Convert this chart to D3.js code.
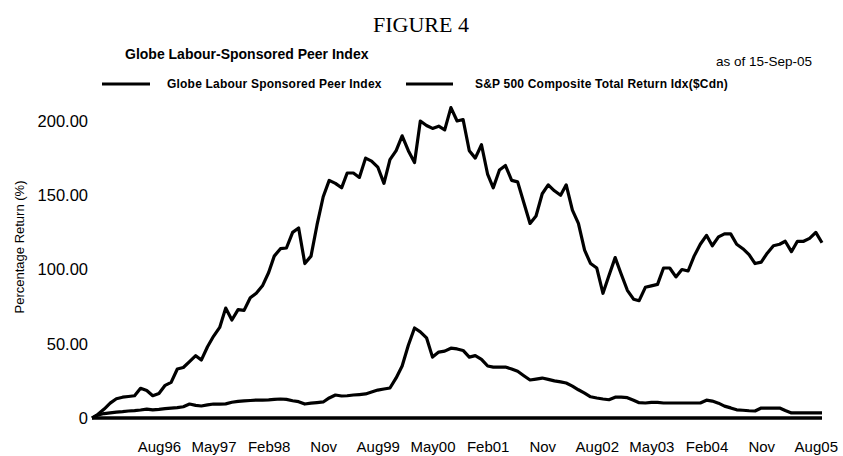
<!DOCTYPE html>
<html>
<head>
<meta charset="utf-8">
<script src="https://cdn.jsdelivr.net/npm/d3@7"></script>
<style>
  html, body { margin: 0; padding: 0; background: #fff; }
  svg { display: block; }
  text { fill: #000; }
</style>
</head>
<body>
<svg id="chart" width="843" height="456"></svg>
<script>
// monthly points, Sep 1995 .. Sep 2005
const START = new Date(1995, 8, 15);
const seriesNames = ['Globe Labour Sponsored Peer Index', 'S&P 500 Composite Total Return Idx($Cdn)'];
const globeLabour = [
    0, 2, 3, 3.5, 4, 4.3, 4.7, 5, 5.4, 6,
    5.5, 5.8, 6.3, 6.7, 7, 7.6, 9.4, 8.5, 8.1, 8.8,
    9.4, 9.4, 9.5, 10.6, 11.2, 11.5, 11.8, 12.1, 12.1, 12.2,
    12.5, 12.8, 12.5, 11.6, 11, 9.4, 10, 10.4, 10.8, 13.5,
    15.5, 14.8, 15, 15.5, 15.8, 16.2, 17.5, 18.8, 19.5, 20.2,
    27, 35, 49, 60.6, 58, 54, 41, 44.4, 45, 47,
    46.5, 45.5, 41, 42, 39.5, 35, 34.3, 34.3, 34.3, 33,
    31.5, 28.5, 25.6, 26.2, 26.9, 26, 25, 24.3, 23.6, 21.5,
    19, 16.8, 14.3, 13.5, 12.8, 12.3, 14, 14, 13.7, 12,
    10.3, 10.1, 10.5, 10.5, 10.1, 10.1, 10.1, 10.1, 10.1, 10.1,
    10.1, 12, 11.4, 10, 8, 6.8, 5.5, 5.2, 4.9, 4.7,
    6.7, 6.7, 6.7, 6.7, 5, 3.4, 3.4, 3.4, 3.4, 3.4,
    3.4
];
const sp500 = [
    0, 2.5, 6, 10, 13, 14, 14.5, 15, 20, 18.5,
    15, 16.5, 22, 24, 33, 34, 38, 42, 39, 48,
    55, 61, 74, 66, 73, 72.5, 81, 84, 89, 98,
    109, 114, 114.5, 125, 128, 104, 109, 130, 149, 160,
    158, 155, 165, 165, 162, 175, 173, 169, 158, 174,
    180, 190, 180, 172, 200, 197, 195, 196.5, 194, 209,
    200, 201, 180, 175, 184, 164, 155, 167, 170, 160,
    159, 145, 131, 136, 151, 157, 153, 150, 157, 140,
    131, 113, 104, 101, 84, 96, 108, 97, 86, 80,
    79, 88, 89, 90, 101, 101, 95, 100, 99, 109,
    117, 123, 116, 122, 124, 124, 117, 114, 110, 104,
    105, 111, 116, 117, 119, 112, 119, 119, 121, 125,
    118
];
const xTickLabels = ['Aug96', 'May97', 'Feb98', 'Nov', 'Aug99', 'May00', 'Feb01',
    'Nov', 'Aug02', 'May03', 'Feb04', 'Nov', 'Aug05'];
const xTickDates = xTickLabels.map((_, i) => new Date(1996, 7 + i * 9, 15));
const yTicks = [0, 50, 100, 150, 200];

const svg = d3.select('#chart');
const dates = sp500.map((_, i) => d3.timeMonth.offset(START, i));
const sans = '"Liberation Sans", Arial, sans-serif';

const x = d3.scaleTime()
    .domain(d3.extent(dates))
    .range([92, 822]);
const y = d3.scaleLinear()
    .domain([0, 200])
    .range([418, 121]);

svg.append('rect').attr('width', 843).attr('height', 456).attr('fill', '#fff');

svg.append('text')
    .attr('x', 421).attr('y', 32)
    .attr('text-anchor', 'middle')
    .style('font-family', '"Liberation Serif", "Times New Roman", serif')
    .style('font-size', '22px')
    .text('FIGURE 4');

svg.append('text')
    .attr('x', 125).attr('y', 59)
    .style('font-family', sans)
    .style('font-size', '14px')
    .style('font-weight', 'bold')
    .text('Globe Labour-Sponsored Peer Index');

svg.append('text')
    .attr('x', 812).attr('y', 66)
    .attr('text-anchor', 'end')
    .style('font-family', sans)
    .style('font-size', '13.5px')
    .text('as of 15-Sep-05');

// legend
const legend = [
    { name: seriesNames[0], x1: 102, x2: 150, tx: 167 },
    { name: seriesNames[1], x1: 406, x2: 453, tx: 475 }
];
const lg = svg.append('g').attr('class', 'legend');
lg.selectAll('line')
    .data(legend)
    .enter().append('line')
    .attr('x1', d => d.x1).attr('x2', d => d.x2)
    .attr('y1', 84).attr('y2', 84)
    .attr('stroke', '#000')
    .attr('stroke-width', 3);
lg.selectAll('text')
    .data(legend)
    .enter().append('text')
    .attr('x', d => d.tx).attr('y', 88)
    .style('font-family', sans)
    .style('font-size', '12px')
    .style('font-weight', 'bold')
    .style('letter-spacing', '0.2px')
    .text(d => d.name);

// axes
const yAxis = svg.append('g')
    .attr('transform', 'translate(88,0)')
    .call(d3.axisLeft(y).tickValues(yTicks).tickSize(0).tickPadding(0)
        .tickFormat(d => d === 0 ? '0' : d3.format('.2f')(d)));
yAxis.select('.domain').remove();
yAxis.selectAll('text')
    .style('font-family', sans)
    .style('font-size', '16.5px');

const xAxis = svg.append('g')
    .attr('transform', 'translate(0,441)')
    .call(d3.axisBottom(x).tickValues(xTickDates).tickSize(0).tickPadding(0)
        .tickFormat((d, i) => xTickLabels[i]));
xAxis.select('.domain').remove();
xAxis.selectAll('text')
    .style('font-family', sans)
    .style('font-size', '15px');

svg.append('text')
    .attr('transform', 'translate(24,247) rotate(-90)')
    .attr('text-anchor', 'middle')
    .style('font-family', sans)
    .style('font-size', '13px')
    .text('Percentage Return (%)');

// zero baseline
svg.append('line')
    .attr('x1', x(dates[0])).attr('x2', x(dates[dates.length - 1]))
    .attr('y1', y(0)).attr('y2', y(0))
    .attr('stroke', '#000')
    .attr('stroke-width', 3.5);

const line = d3.line()
    .x((d, i) => x(dates[i]))
    .y(d => y(d));

svg.selectAll('.series')
    .data([globeLabour, sp500])
    .enter().append('path')
    .attr('class', 'series')
    .attr('d', line)
    .attr('fill', 'none')
    .attr('stroke', '#000')
    .attr('stroke-width', 3.2)
    .attr('stroke-linejoin', 'round');
</script>
</body>
</html>
